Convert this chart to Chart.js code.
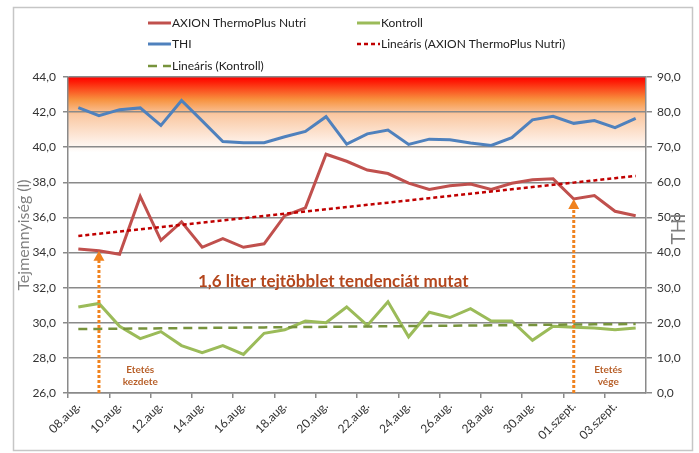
<!DOCTYPE html>
<html>
<head>
<meta charset="utf-8">
<script src="https://cdn.jsdelivr.net/npm/chart.js@4.4.0/dist/chart.umd.min.js"></script>
<style>
  html, body { margin: 0; padding: 0; background: #fff; }
  canvas { display: block; }
</style>
</head>
<body>
<canvas id="milkChart" width="699" height="453"></canvas>
<script>
const days = ['08.aug.', '09.aug.', '10.aug.', '11.aug.', '12.aug.', '13.aug.', '14.aug.',
  '15.aug.', '16.aug.', '17.aug.', '18.aug.', '19.aug.', '20.aug.', '21.aug.', '22.aug.',
  '23.aug.', '24.aug.', '25.aug.', '26.aug.', '27.aug.', '28.aug.', '29.aug.', '30.aug.',
  '31.aug.', '01.szept.', '02.szept.', '03.szept.', '04.szept.'];
const axion = [34.2, 34.1, 33.9, 37.2, 34.7, 35.75, 34.3, 34.8, 34.3, 34.5, 36.1, 36.55, 39.6, 39.2,
  38.7, 38.5, 37.95, 37.6, 37.8, 37.9, 37.6, 37.95, 38.15, 38.2, 37.05, 37.25, 36.35, 36.1];
const kontroll = [30.9, 31.1, 29.8, 29.1, 29.5, 28.7, 28.3, 28.7, 28.2, 29.4, 29.6, 30.1, 30.0, 30.9,
  29.85, 31.2, 29.2, 30.6, 30.3, 30.8, 30.1, 30.1, 29.0, 29.8, 29.75, 29.7, 29.6, 29.7];
const thi = [81.3, 79.0, 80.7, 81.2, 76.2, 83.3, 77.5, 71.6, 71.3, 71.3, 73.0, 74.5, 78.7, 70.9,
  73.8, 74.9, 70.8, 72.3, 72.1, 71.2, 70.5, 72.7, 77.8, 78.8, 76.8, 77.6, 75.6, 78.2];

// tengelyek
const milkRange = [26, 44, 2];
const thiRange = [0, 90, 10];
const heatBand = [39.7, 44];

// etetés kezdete / vége (kategória index)
const feedStart = 1;
const feedEnd = 24;
const noteText = '1,6 liter tejtöbblet tendenciát mutat';

function trend(vals) {
  const n = vals.length;
  const mx = (n - 1) / 2;
  const my = vals.reduce((s, v) => s + v, 0) / n;
  let sxy = 0, sxx = 0;
  vals.forEach((v, i) => { sxy += (i - mx) * (v - my); sxx += (i - mx) * (i - mx); });
  const b = sxy / sxx;
  return vals.map((v, i) => my + b * (i - mx));
}

const fmt = v => v.toFixed(1).replace('.', ',');
const gridGray = '#8a8a8a';

function arrow(ctx, x, yTop, yBottom) {
  ctx.save();
  ctx.strokeStyle = '#f0821e';
  ctx.fillStyle = '#f0821e';
  ctx.lineWidth = 3;
  ctx.setLineDash([3, 2]);
  ctx.beginPath();
  ctx.moveTo(x, yBottom);
  ctx.lineTo(x, yTop + 9);
  ctx.stroke();
  ctx.setLineDash([]);
  ctx.beginPath();
  ctx.moveTo(x, yTop);
  ctx.lineTo(x - 5.5, yTop + 10);
  ctx.lineTo(x + 5.5, yTop + 10);
  ctx.closePath();
  ctx.fill();
  ctx.restore();
}

const decor = {
  id: 'decor',
  beforeDraw(chart) {
    const { ctx, chartArea: a, scales: { y } } = chart;
    ctx.save();
    ctx.strokeStyle = '#c6c6c6';
    ctx.lineWidth = 1.5;
    ctx.strokeRect(13.5, 7.5, 679, 443);
    const top = y.getPixelForValue(heatBand[1]);
    const bot = y.getPixelForValue(heatBand[0]);
    const g = ctx.createLinearGradient(0, top, 0, bot);
    g.addColorStop(0, '#ff0000');
    g.addColorStop(0.06, '#fe1a06');
    g.addColorStop(0.3, '#f7923f');
    g.addColorStop(0.5, '#fac8a2');
    g.addColorStop(0.8, '#fde9db');
    g.addColorStop(1, '#ffffff');
    ctx.fillStyle = g;
    ctx.fillRect(a.left, top, a.right - a.left, bot - top);
    ctx.restore();
  },
  afterDatasetsDraw(chart) {
    const { ctx, chartArea: a, scales: { x, y } } = chart;
    arrow(ctx, x.getPixelForValue(feedStart), y.getPixelForValue(axion[feedStart]), a.bottom);
    arrow(ctx, x.getPixelForValue(feedEnd), y.getPixelForValue(axion[feedEnd]), a.bottom);

    ctx.save();
    ctx.textAlign = 'center';
    ctx.textBaseline = 'middle';
    ctx.fillStyle = '#b8602a';
    ctx.font = 'bold 10px Lato';
    ctx.fillText('Etetés', x.getPixelForValue(3), y.getPixelForValue(27.33));
    ctx.fillText('kezdete', x.getPixelForValue(3), y.getPixelForValue(26.65));
    ctx.fillText('Etetés', x.getPixelForValue(25.67), y.getPixelForValue(27.33));
    ctx.fillText('vége', x.getPixelForValue(25.67), y.getPixelForValue(26.65));

    ctx.fillStyle = '#b4461c';
    ctx.font = 'bold 17px Lato';
    ctx.fillText(noteText, x.getPixelForValue(12.35), y.getPixelForValue(32.35));
    ctx.restore();
  },
  afterDraw(chart) {
    const { ctx } = chart;
    ctx.save();
    const cols = [148, 357];
    const rows = [23, 44, 66];
    chart.data.datasets.forEach((ds, i) => {
      const lx = cols[i % 2];
      const ly = rows[Math.floor(i / 2)];
      ctx.strokeStyle = ds.borderColor;
      ctx.lineWidth = ds.borderWidth;
      ctx.setLineDash(ds.borderDash || []);
      ctx.beginPath();
      ctx.moveTo(lx, ly);
      ctx.lineTo(lx + 23, ly);
      ctx.stroke();
      ctx.setLineDash([]);
      ctx.fillStyle = '#222';
      ctx.font = '12px Lato';
      ctx.textAlign = 'left';
      ctx.textBaseline = 'middle';
      ctx.fillText(ds.label, lx + 24, ly + 0.5);
    });

    // jobb tengely címe
    ctx.translate(679, 229);
    ctx.rotate(-Math.PI / 2);
    ctx.fillStyle = '#7f7f7f';
    ctx.font = '19px Lato';
    ctx.textAlign = 'center';
    ctx.textBaseline = 'middle';
    ctx.fillText('THI', 0, 0);
    ctx.restore();
  }
};

new Chart(document.getElementById('milkChart'), {
  type: 'line',
  data: {
    labels: days,
    datasets: [
      { label: 'AXION ThermoPlus Nutri', data: axion, yAxisID: 'y', borderColor: '#c0504d', borderWidth: 3, order: 1 },
      { label: 'Kontroll', data: kontroll, yAxisID: 'y', borderColor: '#9bbb59', borderWidth: 3, order: 1 },
      { label: 'THI', data: thi, yAxisID: 'y2', borderColor: '#4f81bd', borderWidth: 3, order: 1 },
      { label: 'Lineáris (AXION ThermoPlus Nutri)', data: trend(axion), yAxisID: 'y', borderColor: '#c00000',
        borderWidth: 2.5, borderDash: [4, 3], order: 0 },
      { label: 'Lineáris (Kontroll)', data: trend(kontroll), yAxisID: 'y', borderColor: '#77933c',
        borderWidth: 2.5, borderDash: [9, 6], order: 0 }
    ]
  },
  options: {
    responsive: false,
    animation: false,
    layout: { padding: { top: 77, left: 0, right: 0, bottom: 0 } },
    elements: { point: { radius: 0 }, line: { tension: 0 } },
    font: { family: 'Lato' },
    plugins: { legend: { display: false }, tooltip: { enabled: false } },
    scales: {
      x: {
        offset: true,
        grid: {
          offset: true,
          drawOnChartArea: false,
          tickLength: 5,
          lineWidth: 1.5,
          color: c => (c.index % 2 === 0 ? gridGray : 'rgba(0,0,0,0)')
        },
        border: { color: gridGray, width: 1.5 },
        ticks: {
          autoSkip: false,
          minRotation: 45,
          maxRotation: 45,
          padding: 1,
          color: '#333',
          font: { family: 'Lato', size: 12 },
          callback: (v, i) => (i % 2 === 0 ? days[i] : '')
        },
        afterFit: s => { s.height = 60; }
      },
      y: {
        position: 'left',
        min: milkRange[0],
        max: milkRange[1],
        grid: { color: gridGray, lineWidth: 1.5, tickLength: 5 },
        border: { color: gridGray, width: 1.5 },
        ticks: {
          stepSize: milkRange[2],
          padding: 7,
          color: '#333',
          font: { family: 'Lato', size: 12 },
          callback: v => fmt(v)
        },
        title: {
          display: true,
          text: 'Tejmennyiség (l)',
          color: '#7f7f7f',
          font: { family: 'Lato', size: 16 },
          padding: { top: 14, bottom: 0 }
        },
        afterFit: s => { s.width = 68; }
      },
      y2: {
        position: 'right',
        min: thiRange[0],
        max: thiRange[1],
        grid: { drawOnChartArea: false, color: gridGray, lineWidth: 1.5, tickLength: 6 },
        border: { color: gridGray, width: 1.5 },
        ticks: {
          stepSize: thiRange[2],
          padding: 5,
          color: '#333',
          font: { family: 'Lato', size: 12 },
          callback: v => fmt(v)
        },
        afterFit: s => { s.width = 53; }
      }
    }
  },
  plugins: [decor]
});
</script>
</body>
</html>
